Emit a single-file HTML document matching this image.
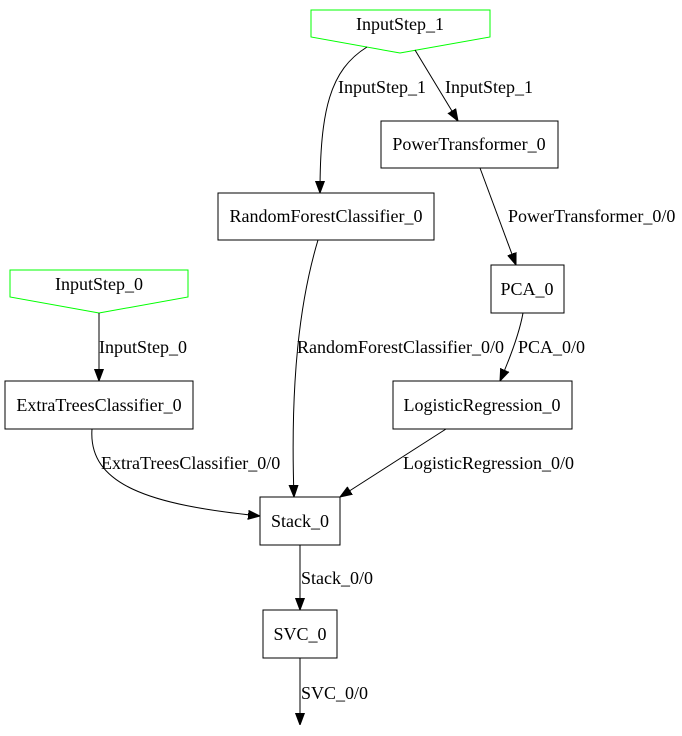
<!DOCTYPE html>
<html><head><style>body{margin:0;background:#fff}svg{display:block}text{font-family:"Liberation Serif",serif;font-size:18px;fill:#000}</style></head>
<body>
<svg width="682" height="736" viewBox="0 0 682 736" xmlns="http://www.w3.org/2000/svg">
<defs><marker id="a" markerWidth="12" markerHeight="10" refX="12" refY="5" orient="auto" markerUnits="userSpaceOnUse"><path d="M0,0.5L12,5L0,9.5Z" fill="#000" stroke="#000"/></marker></defs>
<g fill="none" stroke="#0f0">
<polygon points="311,10 490,10 490,37 400,53 311,37"/>
<polygon points="10,270 188,270 188,297 99,313 10,297"/>
</g>
<g fill="none" stroke="#000">
<rect x="381" y="121" width="177" height="47"/>
<rect x="218" y="193" width="216" height="47"/>
<rect x="491" y="265" width="73" height="48"/>
<rect x="5" y="381" width="188" height="48"/>
<rect x="393" y="381" width="179" height="48"/>
<rect x="260" y="497" width="80" height="48"/>
<rect x="263" y="610" width="74" height="48"/>
<g marker-end="url(#a)">
<path d="M367,47 C330,70 320,110 320,193"/>
<path d="M415,50 L458,121"/>
<path d="M99,313 L99,381"/>
<path d="M480,168 L516,265"/>
<path d="M523,313 C519,335 510,358 500,381"/>
<path d="M318,240 C300,300 290,380 294,497"/>
<path d="M92,429 C88,485 150,505 260,516"/>
<path d="M446,429 L340,497"/>
<path d="M300,545 L300,610"/>
<path d="M300,658 L300,725"/>
</g>
</g>
<g text-anchor="middle">
<text x="400" y="30">InputStep_1</text>
<text x="99" y="290">InputStep_0</text>
<text x="469" y="150">PowerTransformer_0</text>
<text x="326" y="222">RandomForestClassifier_0</text>
<text x="527" y="295">PCA_0</text>
<text x="99" y="411">ExtraTreesClassifier_0</text>
<text x="482" y="411">LogisticRegression_0</text>
<text x="300" y="527">Stack_0</text>
<text x="300" y="640">SVC_0</text>
</g>
<text x="338" y="93">InputStep_1</text>
<text x="445" y="93">InputStep_1</text>
<text x="508" y="222">PowerTransformer_0/0</text>
<text x="297" y="353">RandomForestClassifier_0/0</text>
<text x="518" y="353">PCA_0/0</text>
<text x="99" y="353">InputStep_0</text>
<text x="101" y="469">ExtraTreesClassifier_0/0</text>
<text x="403" y="469">LogisticRegression_0/0</text>
<text x="301" y="584">Stack_0/0</text>
<text x="301" y="699">SVC_0/0</text>
</svg>
</body></html>
